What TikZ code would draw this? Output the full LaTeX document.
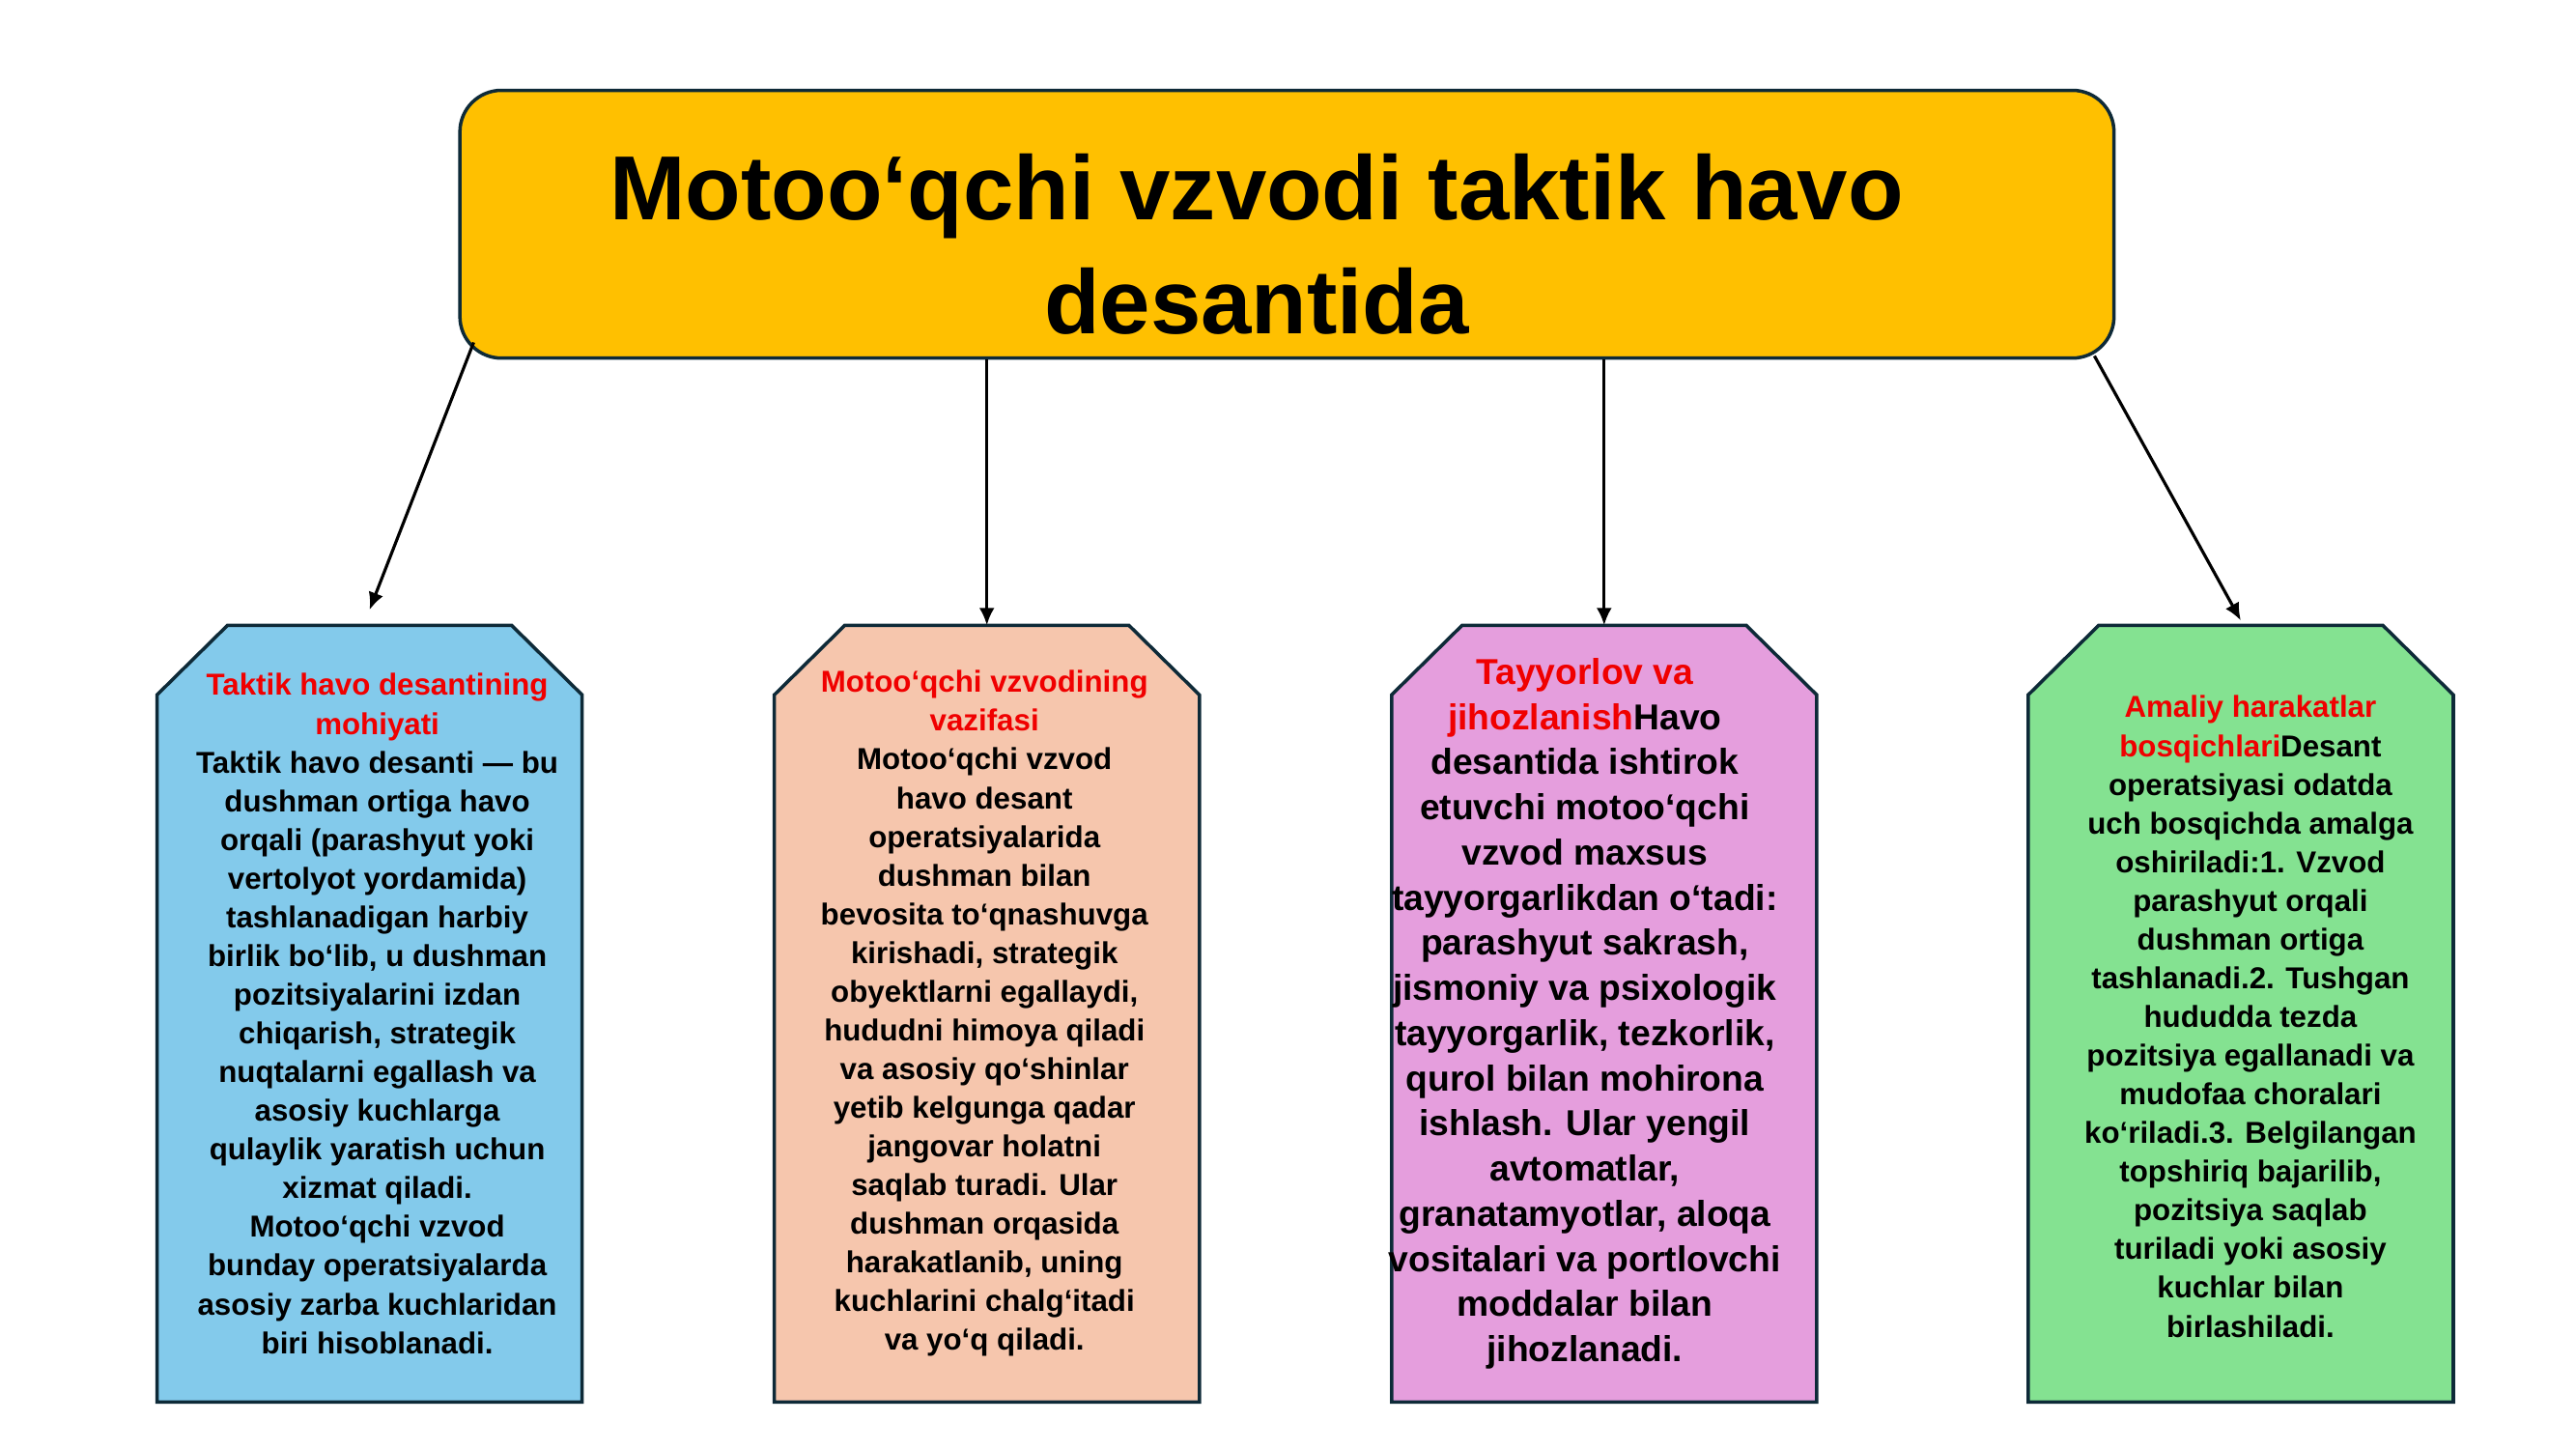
\documentclass[tikz,border=0pt]{standalone}
\usepackage{fontspec}
\setmainfont{Liberation Sans}
\usetikzlibrary{arrows.meta,positioning,calc}
\definecolor{titlefill}{HTML}{FFC000}
\definecolor{edgeblue}{HTML}{0E2A38}
\definecolor{cblue}{HTML}{83CAEB}
\definecolor{cpeach}{HTML}{F6C6AD}
\definecolor{cpink}{HTML}{E59EDD}
\definecolor{cgreen}{HTML}{84E291}
\definecolor{hred}{HTML}{F00000}
\tikzset{card/.style={minimum width=4.387cm, minimum height=8.026cm, inner sep=0pt}}
\tikzset{body/.style={align=center, font=\bfseries\fontsize{8.9}{11.4}\selectfont}}
\tikzset{big/.style={align=center, font=\bfseries\fontsize{10.6}{13.3}\selectfont}}
\tikzset{arr/.style={-{Latex[length=1.8mm,width=1.6mm]}, line width=0.9pt}}
\newcommand{\hd}[1]{\textcolor{hred}{#1}}

\begin{document}
\begin{tikzpicture}
  \useasboundingbox (0,0) rectangle (26.67,-15);
  \node[draw=edgeblue, line width=1pt, fill=titlefill, rounded corners=4.3mm,
        minimum width=17.125cm, minimum height=2.772cm] (title) at (13.324,-2.321) {};
  \node[align=center, font=\bfseries\fontsize{26.8}{33.7}\selectfont] (head) at (13.01,-2.53)
    {Motoo‘qchi vzvodi taktik havo\\desantida};

  % the four cards
  \node[card] (b1) at (3.826,-10.493) {};
  \node[card, right=1.99cm of b1] (b2) {};
  \node[card, right=1.99cm of b2] (b3) {};
  \node[card, right=2.19cm of b3] (b4) {};
  \foreach \b/\c in {b1/cblue,b2/cpeach,b3/cpink,b4/cgreen}
    \filldraw[draw=edgeblue, line width=1pt, fill=\c] (\b.south west)
      -- ([yshift=-7.2mm]\b.north west) -- ([xshift=7.3mm]\b.north west)
      -- ([xshift=-7.3mm]\b.north east) -- ([yshift=-7.2mm]\b.north east)
      -- (\b.south east) -- cycle;

  \node[body] (t1) at ([xshift=0.8mm]b1.center) {\hd{Taktik havo desantining}\\\hd{mohiyati}\\
    Taktik havo desanti — bu\\dushman ortiga havo\\orqali (parashyut yoki\\
    vertolyot yordamida)\\tashlanadigan harbiy\\birlik bo‘lib, u dushman\\
    pozitsiyalarini izdan\\chiqarish, strategik\\nuqtalarni egallash va\\
    asosiy kuchlarga\\qulaylik yaratish uchun\\xizmat qiladi.\\
    Motoo‘qchi vzvod\\bunday operatsiyalarda\\asosiy zarba kuchlaridan\\
    biri hisoblanadi.};
  \node[body] (t2) at ([xshift=-0.25mm]b2.center) {\hd{Motoo‘qchi vzvodining}\\\hd{vazifasi}\\
    Motoo‘qchi vzvod\\havo desant\\operatsiyalarida\\dushman bilan\\
    bevosita to‘qnashuvga\\kirishadi, strategik\\obyektlarni egallaydi,\\
    hududni himoya qiladi\\va asosiy qo‘shinlar\\yetib kelgunga qadar\\
    jangovar holatni\\saqlab turadi. Ular\\dushman orqasida\\
    harakatlanib, uning\\kuchlarini chalg‘itadi\\va yo‘q qiladi.};
  \node[big] (t3) at ([xshift=-2.0mm]b3.center) {\hd{Tayyorlov va}\\\hd{jihozlanish}Havo\\
    desantida ishtirok\\etuvchi motoo‘qchi\\vzvod maxsus\\
    tayyorgarlikdan o‘tadi:\\parashyut sakrash,\\jismoniy va psixologik\\
    tayyorgarlik, tezkorlik,\\qurol bilan mohirona\\ishlash. Ular yengil\\
    avtomatlar,\\granatamyotlar, aloqa\\vositalari va portlovchi\\
    moddalar bilan\\jihozlanadi.};
  \node[body] (t4) at ([xshift=1mm,yshift=-0.3mm]b4.center) {\hd{Amaliy harakatlar}\\\hd{bosqichlari}Desant\\
    operatsiyasi odatda\\uch bosqichda amalga\\oshiriladi:1. Vzvod\\
    parashyut orqali\\dushman ortiga\\tashlanadi.2. Tushgan\\hududda tezda\\
    pozitsiya egallanadi va\\mudofaa choralari\\ko‘riladi.3. Belgilangan\\
    topshiriq bajarilib,\\pozitsiya saqlab\\turiladi yoki asosiy\\
    kuchlar bilan\\birlashiladi.};

  % arrows from the title
  \draw[arr] ([xshift=1.6mm,yshift=1.8mm]title.south west) -- ([yshift=1.6mm]b1.north);
  \draw[arr] (title.south -| b2.north) -- (b2.north);
  \draw[arr] (title.south -| b3.north) -- (b3.north);
  \draw[arr] ([xshift=-2.2mm,yshift=0.4mm]title.south east) -- ([yshift=0.5mm]b4.north);
\end{tikzpicture}
\end{document}
